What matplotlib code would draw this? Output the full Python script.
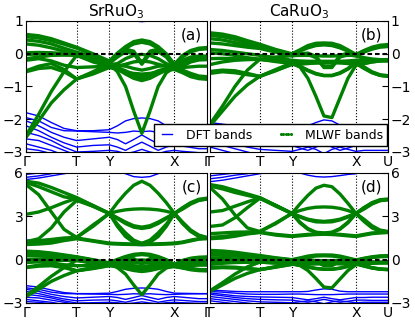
import matplotlib
matplotlib.use('Agg')
import matplotlib.pyplot as plt
from matplotlib.lines import Line2D

# k-path (fraction of path length) and labels
kpath = [0.0, 0.07, 0.14, 0.21, 0.28, 0.37, 0.46, 0.505, 0.55, 0.595, 0.64,
         0.685, 0.73, 0.775, 0.82, 0.865, 0.91, 0.955, 1.0]
kticks = [0.0, 0.28, 0.46, 0.82, 1.0]
klabels_sr = ['Γ', 'T', 'Y', 'X', 'Γ']
klabels_ca = ['Γ', 'T', 'Y', 'X', 'U']

# ---------------- SrRuO3 ----------------
sr_t2g = [
    [0.59, 0.55, 0.46, 0.33, 0.20, 0.00, -0.22, 0.02, 0.22, 0.37, 0.42, 0.37, 0.22, 0.00, -0.32, -0.05, 0.10, 0.17, 0.19],
    [0.52, 0.48, 0.40, 0.29, 0.17, -0.03, -0.25, -0.02, 0.17, 0.30, 0.35, 0.30, 0.17, -0.03, -0.36, -0.10, 0.06, 0.13, 0.15],
    [0.42, 0.38, 0.30, 0.17, 0.05, -0.10, -0.28, -0.05, 0.14, 0.08, -0.28, 0.08, 0.14, -0.05, -0.40, -0.20, -0.10, -0.07, -0.07],
    [0.30, 0.26, 0.18, 0.08, 0.02, -0.12, -0.30, -0.10, 0.06, 0.00, -0.32, 0.00, 0.06, -0.10, -0.42, -0.24, -0.15, -0.12, -0.12],
    [0.03, 0.04, 0.03, 0.01, 0.00, -0.15, -0.33, -0.35, -0.38, -0.45, -0.50, -0.45, -0.38, -0.37, -0.44, -0.30, -0.20, -0.16, -0.15],
    [-0.02, -0.01, -0.02, -0.03, -0.03, -0.20, -0.36, -0.42, -0.52, -0.64, -0.70, -0.64, -0.52, -0.45, -0.46, -0.38, -0.25, -0.19, -0.18],
    [-0.15, -0.10, -0.05, -0.04, -0.05, -0.25, -0.38, -0.45, -0.58, -0.72, -0.78, -0.72, -0.58, -0.48, -0.47, -0.55, -0.65, -0.72, -0.73],
    [-0.20, -0.15, -0.22, -0.35, -0.42, -0.40, -0.38, -0.47, -0.62, -0.75, -0.82, -0.75, -0.62, -0.50, -0.48, -0.58, -0.70, -0.76, -0.78],
    [-0.52, -0.38, -0.30, -0.48, -0.77, -0.62, -0.42, -0.48, -0.55, -0.60, -0.62, -0.60, -0.55, -0.50, -0.46, -0.50, -0.60, -0.68, -0.70],
    [-0.55, -0.45, -0.42, -0.55, -0.77, -0.58, -0.40, -0.38, -0.32, -0.25, -0.22, -0.25, -0.32, -0.38, -0.44, -0.42, -0.40, -0.38, -0.38],
    [-2.55, -2.05, -1.50, -1.10, -0.77, -0.55, -0.30, -0.55, -1.00, -1.75, -2.43, -1.75, -1.00, -0.58, -0.42, -0.55, -0.65, -0.72, -0.74],
    [-2.50, -1.85, -1.15, -0.55, -0.05, -0.20, -0.34, -0.30, -0.15, -0.05, -0.02, -0.05, -0.15, -0.30, -0.43, -0.30, -0.18, -0.12, -0.10],
]
sr_eg = [
    [5.43, 5.30, 5.00, 4.65, 4.30, 3.75, 3.20, 3.95, 4.60, 5.15, 5.43, 5.15, 4.60, 3.95, 3.20, 3.60, 3.95, 4.18, 4.26],
    [5.35, 5.05, 4.70, 4.35, 4.20, 3.70, 3.20, 3.35, 3.45, 3.50, 3.52, 3.50, 3.45, 3.35, 3.20, 3.50, 3.85, 4.10, 4.20],
    [3.14, 3.30, 3.60, 3.95, 4.25, 3.75, 3.20, 2.85, 2.50, 2.25, 2.16, 2.25, 2.50, 2.85, 3.20, 2.60, 2.05, 1.70, 1.54],
    [5.20, 4.50, 3.30, 2.10, 1.54, 2.40, 3.20, 2.30, 1.60, 1.20, 1.13, 1.20, 1.60, 2.30, 3.20, 2.55, 2.00, 1.65, 1.50],
    [1.24, 1.45, 2.20, 3.30, 4.10, 3.70, 3.20, 2.90, 2.60, 2.35, 2.25, 2.35, 2.60, 2.90, 3.20, 3.55, 3.90, 4.12, 4.20],
    [1.20, 1.30, 1.40, 1.50, 1.54, 2.30, 3.20, 2.45, 1.85, 1.35, 1.13, 1.35, 1.85, 2.45, 3.20, 2.50, 1.95, 1.60, 1.50],
    [1.15, 1.18, 1.25, 1.40, 1.50, 1.32, 1.15, 1.12, 1.10, 1.08, 1.07, 1.08, 1.10, 1.12, 1.15, 1.22, 1.35, 1.45, 1.50],
    [1.05, 1.08, 1.15, 1.32, 1.45, 1.28, 1.10, 1.08, 1.06, 1.05, 1.04, 1.05, 1.06, 1.08, 1.10, 1.18, 1.30, 1.42, 1.45],
]
# DFT bands not covered by the Wannier fit (O 2p below, Sr d above)
sr_dft_other = [
    [1.35, 1.38, 1.42, 1.48, 1.54, 1.30, 1.12, 1.08, 1.04, 1.00, 0.98, 1.00, 1.04, 1.08, 1.12, 1.25, 1.38, 1.47, 1.50],
    [5.55, 5.65, 5.80, 5.95, 6.10, 6.30, 6.40, 6.20, 5.95, 5.75, 5.70, 5.75, 5.95, 6.20, 6.40, 6.40, 6.40, 6.40, 6.40],
    [5.70, 5.80, 5.95, 6.10, 6.30, 6.50, 6.60, 6.50, 6.40, 6.30, 6.25, 6.30, 6.40, 6.50, 6.60, 6.60, 6.60, 6.60, 6.60],
    [5.90, 6.00, 6.10, 6.25, 6.40, 6.60, 6.70, 6.70, 6.70, 6.70, 6.70, 6.70, 6.70, 6.70, 6.70, 6.70, 6.70, 6.70, 6.70],
    [-1.80, -1.90, -2.10, -2.28, -2.35, -2.35, -2.32, -2.20, -2.05, -1.98, -1.96, -1.98, -2.05, -2.20, -2.32, -2.33, -2.34, -2.35, -2.35],
    [-1.95, -2.05, -2.25, -2.35, -2.36, -2.38, -2.40, -2.42, -2.40, -2.36, -2.38, -2.36, -2.40, -2.42, -2.40, -2.38, -2.37, -2.36, -2.36],
    [-2.05, -2.20, -2.40, -2.55, -2.65, -2.60, -2.55, -2.62, -2.75, -2.62, -2.48, -2.62, -2.75, -2.62, -2.55, -2.60, -2.65, -2.70, -2.70],
    [-2.20, -2.35, -2.55, -2.72, -2.85, -2.80, -2.78, -2.85, -2.95, -2.82, -2.70, -2.82, -2.95, -2.85, -2.78, -2.82, -2.86, -2.90, -2.90],
    [-2.40, -2.50, -2.65, -2.85, -3.00, -2.98, -2.95, -2.98, -3.05, -3.00, -2.92, -3.00, -3.05, -2.98, -2.95, -2.98, -3.00, -3.02, -3.02],
    [-2.60, -2.65, -2.80, -2.95, -3.10, -3.10, -3.10, -3.10, -3.10, -3.10, -3.10, -3.10, -3.10, -3.10, -3.10, -3.10, -3.10, -3.10, -3.10],
    [-2.75, -2.85, -2.95, -3.10, -3.20, -3.20, -3.20, -3.20, -3.20, -3.20, -3.20, -3.20, -3.20, -3.20, -3.20, -3.20, -3.20, -3.20, -3.20],
    [-2.90, -2.95, -3.05, -3.20, -3.30, -3.30, -3.30, -3.30, -3.30, -3.30, -3.30, -3.30, -3.30, -3.30, -3.30, -3.30, -3.30, -3.30, -3.30],
]

# ---------------- CaRuO3 ----------------
ca_t2g = [
    [0.64, 0.60, 0.52, 0.40, 0.29, 0.13, 0.00, 0.12, 0.25, 0.32, 0.33, 0.32, 0.25, 0.12, -0.02, 0.10, 0.20, 0.26, 0.28],
    [0.56, 0.52, 0.44, 0.33, 0.24, 0.10, -0.02, 0.08, 0.18, 0.25, 0.27, 0.25, 0.18, 0.08, -0.04, 0.07, 0.16, 0.23, 0.25],
    [0.46, 0.42, 0.34, 0.25, 0.18, 0.07, -0.04, 0.00, 0.02, -0.08, -0.38, -0.38, -0.05, 0.02, -0.05, -0.12, -0.16, -0.18, -0.18],
    [0.33, 0.30, 0.25, 0.20, 0.16, 0.05, -0.06, -0.03, -0.02, -0.12, -0.42, -0.42, -0.10, -0.03, -0.07, -0.14, -0.18, -0.20, -0.20],
    [0.13, 0.10, 0.05, 0.00, -0.05, -0.12, -0.20, -0.22, -0.23, -0.23, -0.23, -0.23, -0.23, -0.22, -0.20, -0.20, -0.19, -0.18, -0.18],
    [0.03, 0.00, -0.05, -0.12, -0.17, -0.20, -0.22, -0.25, -0.27, -0.28, -0.28, -0.28, -0.27, -0.25, -0.22, -0.22, -0.21, -0.20, -0.20],
    [-0.15, -0.14, -0.15, -0.16, -0.17, -0.22, -0.28, -0.38, -0.50, -0.60, -0.66, -0.66, -0.58, -0.45, -0.25, -0.40, -0.55, -0.64, -0.67],
    [-0.33, -0.25, -0.20, -0.18, -0.17, -0.24, -0.30, -0.40, -0.52, -0.62, -0.67, -0.67, -0.60, -0.47, -0.28, -0.42, -0.57, -0.66, -0.69],
    [-0.54, -0.50, -0.52, -0.60, -0.69, -0.52, -0.32, -0.30, -0.28, -0.26, -0.25, -0.25, -0.26, -0.28, -0.30, -0.45, -0.58, -0.66, -0.69],
    [-0.60, -0.55, -0.58, -0.64, -0.69, -0.50, -0.33, -0.32, -0.30, -0.28, -0.26, -0.26, -0.28, -0.30, -0.32, -0.30, -0.25, -0.22, -0.22],
    [-2.20, -1.75, -1.30, -0.95, -0.69, -0.48, -0.28, -0.40, -0.75, -1.30, -1.90, -1.95, -1.35, -0.75, -0.35, -0.30, -0.25, -0.22, -0.21],
    [-2.15, -1.60, -1.00, -0.50, -0.17, -0.10, -0.06, -0.05, -0.05, -0.06, -0.07, -0.07, -0.06, -0.05, -0.05, 0.05, 0.14, 0.20, 0.22],
]
ca_eg = [
    [5.20, 5.05, 4.80, 4.55, 4.30, 3.75, 3.20, 3.85, 4.45, 4.95, 5.15, 5.05, 4.55, 3.90, 3.20, 3.60, 3.95, 4.15, 4.20],
    [5.10, 4.90, 4.65, 4.45, 4.25, 3.70, 3.20, 3.40, 3.55, 3.63, 3.65, 3.63, 3.55, 3.40, 3.20, 3.50, 3.85, 4.08, 4.15],
    [3.30, 3.40, 3.70, 4.00, 4.28, 3.75, 3.20, 2.95, 2.75, 2.62, 2.60, 2.62, 2.75, 2.95, 3.20, 2.80, 2.35, 2.05, 1.95],
    [5.00, 4.20, 3.10, 2.20, 1.95, 2.55, 3.20, 2.60, 2.15, 1.90, 1.85, 1.90, 2.15, 2.60, 3.20, 2.70, 2.25, 2.00, 1.90],
    [2.30, 2.40, 2.90, 3.60, 4.25, 3.75, 3.20, 3.00, 2.80, 2.70, 2.65, 2.70, 2.80, 3.00, 3.20, 3.60, 3.90, 4.10, 4.15],
    [1.80, 1.85, 1.90, 1.92, 1.95, 2.50, 3.20, 2.55, 2.10, 1.88, 1.82, 1.88, 2.10, 2.55, 3.20, 2.65, 2.20, 1.98, 1.92],
    [1.55, 1.60, 1.70, 1.82, 1.90, 1.75, 1.65, 1.70, 1.75, 1.78, 1.80, 1.78, 1.75, 1.70, 1.65, 1.75, 1.85, 1.88, 1.90],
    [1.45, 1.50, 1.62, 1.78, 1.88, 1.70, 1.60, 1.65, 1.70, 1.74, 1.76, 1.74, 1.70, 1.65, 1.60, 1.70, 1.80, 1.85, 1.88],
]
ca_dft_other = [
    [5.40, 5.50, 5.65, 5.80, 5.95, 6.10, 6.20, 6.00, 5.85, 5.75, 5.72, 5.75, 5.82, 5.90, 5.95, 6.10, 6.20, 6.30, 6.30],
    [5.60, 5.70, 5.85, 5.95, 6.10, 6.30, 6.40, 6.40, 6.40, 6.40, 6.40, 6.40, 6.40, 6.40, 6.40, 6.40, 6.40, 6.40, 6.40],
    [5.80, 5.90, 6.00, 6.10, 6.30, 6.50, 6.60, 6.60, 6.60, 6.60, 6.60, 6.60, 6.60, 6.60, 6.60, 6.60, 6.60, 6.60, 6.60],
    [-2.10, -2.15, -2.20, -2.22, -2.22, -2.22, -2.22, -2.22, -2.20, -2.10, -2.02, -2.05, -2.18, -2.22, -2.22, -2.22, -2.22, -2.22, -2.22],
    [-2.20, -2.25, -2.32, -2.38, -2.40, -2.40, -2.38, -2.38, -2.40, -2.42, -2.42, -2.42, -2.40, -2.38, -2.38, -2.38, -2.38, -2.38, -2.38],
    [-2.30, -2.40, -2.50, -2.55, -2.58, -2.60, -2.62, -2.70, -2.78, -2.70, -2.60, -2.70, -2.78, -2.70, -2.62, -2.62, -2.60, -2.60, -2.60],
    [-2.40, -2.50, -2.62, -2.70, -2.75, -2.78, -2.80, -2.88, -2.95, -2.85, -2.75, -2.85, -2.95, -2.88, -2.80, -2.80, -2.82, -2.82, -2.82],
    [-2.55, -2.65, -2.75, -2.85, -2.92, -2.95, -2.98, -2.92, -2.85, -2.92, -3.05, -2.92, -2.85, -2.92, -2.98, -2.95, -2.95, -2.95, -2.95],
    [-2.70, -2.80, -2.90, -3.00, -3.10, -3.10, -3.10, -3.10, -3.10, -3.10, -3.10, -3.10, -3.10, -3.10, -3.10, -3.10, -3.10, -3.10, -3.10],
    [-2.85, -2.95, -3.05, -3.15, -3.20, -3.20, -3.20, -3.20, -3.20, -3.20, -3.20, -3.20, -3.20, -3.20, -3.20, -3.20, -3.20, -3.20, -3.20],
]

plt.rcParams['font.family'] = 'DejaVu Sans'
plt.rcParams['font.size'] = 10

fig = plt.figure(figsize=(4.15, 3.25), dpi=100)
W, H = 415.0, 325.0
ax_a = fig.add_axes([26 / W, 1 - 152 / H, 181 / W, 131 / H])
ax_b = fig.add_axes([210 / W, 1 - 152 / H, 178 / W, 131 / H])
ax_c = fig.add_axes([26 / W, 1 - 303 / H, 181 / W, 130 / H])
ax_d = fig.add_axes([210 / W, 1 - 303 / H, 178 / W, 130 / H])

panels = [
    (ax_a, sr_t2g + sr_eg, sr_dft_other, klabels_sr, (-3, 1), [-3, -2, -1, 0, 1], '(a)'),
    (ax_b, ca_t2g + ca_eg, ca_dft_other, klabels_ca, (-3, 1), [-3, -2, -1, 0, 1], '(b)'),
    (ax_c, sr_t2g + sr_eg, sr_dft_other, klabels_sr, (-3, 6), [-3, 0, 3, 6], '(c)'),
    (ax_d, ca_t2g + ca_eg, ca_dft_other, klabels_ca, (-3, 6), [-3, 0, 3, 6], '(d)'),
]

for ax, wann, other, klab, ylim, yt, tag in panels:
    for band in other + wann:
        ax.plot(kpath, band, color='b', lw=1.0)
    for band in wann:
        ax.plot(kpath, band, color='g', lw=2.4, solid_capstyle='round',
                solid_joinstyle='round')
    ax.axhline(0, color='k', lw=1.5, dashes=(2.2, 1.4), zorder=5)
    for kv in kticks[1:-1]:
        ax.axvline(kv, color='k', lw=0.8, ls=':', zorder=1)
    ax.set_xlim(0, 1)
    ax.set_ylim(*ylim)
    ax.set_yticks(yt)
    ax.set_xticks(kticks)
    ax.set_xticklabels(klab)
    ax.tick_params(direction='in', length=4, labelsize=10, pad=2)
    ax.text(0.97, 0.95, tag, transform=ax.transAxes, ha='right', va='top',
            fontsize=11, zorder=6)

for ax in (ax_b, ax_d):
    ax.yaxis.tick_right()

ax_a.set_title('SrRuO$_3$', fontsize=11, pad=3)
ax_b.set_title('CaRuO$_3$', fontsize=11, pad=3)

handles = [Line2D([], [], color='b', lw=1.0),
           Line2D([], [], color='g', ls='None', marker='o', ms=2.2, mew=0)]
fig.legend(handles, ['DFT bands', 'MLWF bands'], loc='lower right',
           bbox_to_anchor=(387 / W, 1 - 146 / H), bbox_transform=fig.transFigure,
           ncol=2, fontsize=9, numpoints=5, handlelength=1.4, handletextpad=0.8,
           columnspacing=2.0, borderpad=0.35, borderaxespad=0, fancybox=False,
           edgecolor='k', framealpha=1)

fig.savefig('out.png', dpi=100)
